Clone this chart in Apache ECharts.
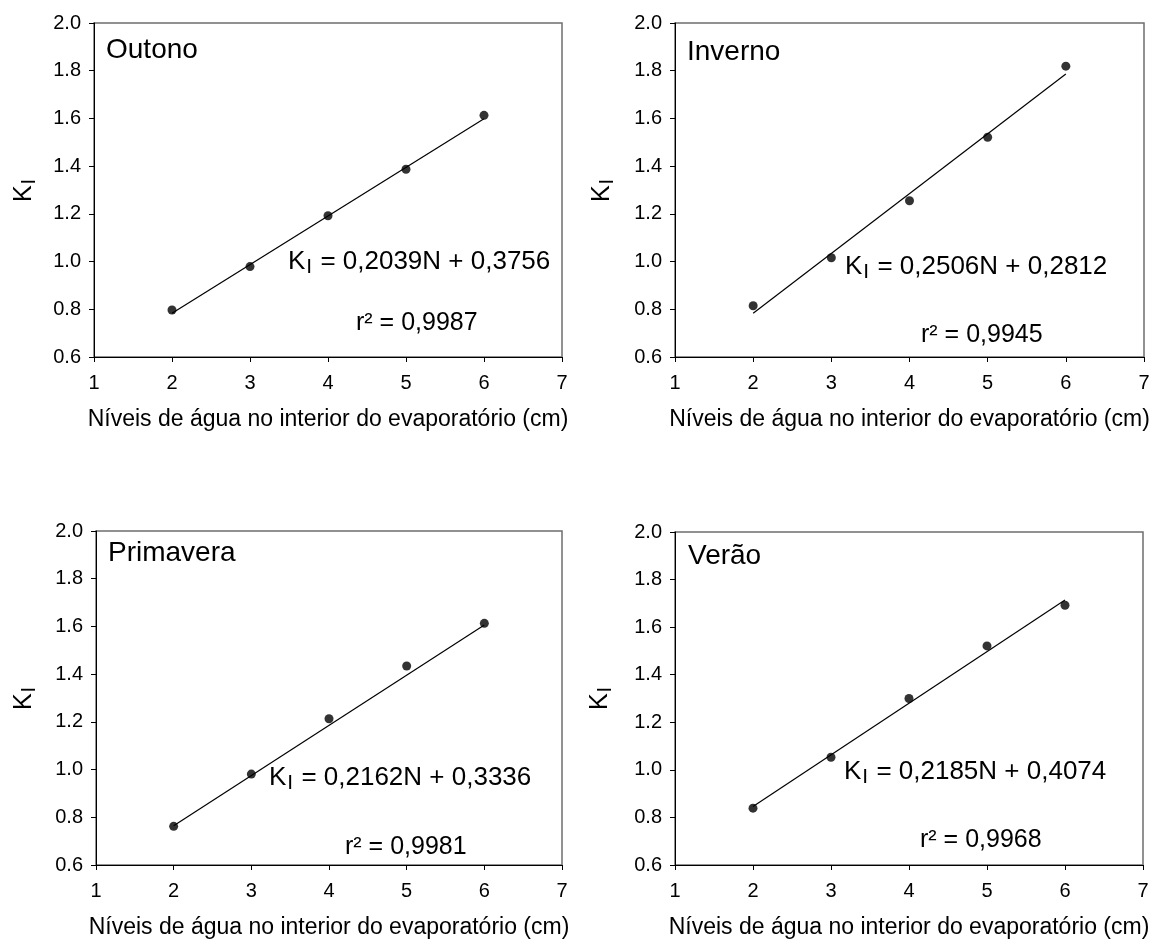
<!DOCTYPE html>
<html>
<head>
<meta charset="utf-8">
<script src="https://cdn.jsdelivr.net/npm/echarts@6/dist/echarts.min.js"></script>
<style>
html,body{margin:0;padding:0;background:#fff;}
#chart{width:1155px;height:940px;}
</style>
</head>
<body>
<div id="chart"></div>
<script>
// ---- data ----
const levels = [2, 3, 4, 5, 6];
const fitX = [2, 6];
const outono = [0.797, 0.979, 1.192, 1.387, 1.613];
const inverno = [0.815, 1.016, 1.255, 1.521, 1.819];
const primavera = [0.762, 0.981, 1.213, 1.434, 1.613];
const verao = [0.839, 1.053, 1.300, 1.521, 1.692];
const outonoFit = [0.783, 1.599];
const invernoFit = [0.783, 1.786];
const primaveraFit = [0.765, 1.606];
const veraoFit = [0.846, 1.714];
const seasons = ['Outono', 'Inverno', 'Primavera', 'Verão'];
const equations = ['0,2039N + 0,3756', '0,2506N + 0,2812', '0,2162N + 0,3336', '0,2185N + 0,4074'];
const r2 = ['0,9987', '0,9945', '0,9981', '0,9968'];
const yTicks = ['0.6', '0.8', '1.0', '1.2', '1.4', '1.6', '1.8', '2.0'];
const xTicks = ['1', '2', '3', '4', '5', '6', '7'];
const xName = 'Níveis de água no interior do evaporatório (cm)';

const FONT = '"Liberation Sans", Arial, sans-serif';
const points = [outono, inverno, primavera, verao];
const fits = [outonoFit, invernoFit, primaveraFit, veraoFit];

// layout
const grids = [
  {left: 94, top: 23, width: 468, height: 334},
  {left: 675, top: 23, width: 469, height: 334},
  {left: 96, top: 531, width: 466, height: 334},
  {left: 675, top: 532, width: 468, height: 333}
];
const titlePos = [[106, 50], [687, 52], [108, 553], [688, 556]];
const eqPos = [[288, 262], [845, 267], [269, 778], [844, 772]];
const r2Pos = [[356, 323], [921, 335], [345, 847], [920, 840]];
const yNamePos = [[24, 190], [602, 190], [24, 698], [600, 698]];

const richK = {
  k: {fontSize: 26, fontFamily: FONT, color: '#000'},
  s: {fontSize: 21, fontFamily: FONT, color: '#000', padding: [10, 1, 0, 1]}
};
const richY = {
  k: {fontSize: 25, fontFamily: FONT, color: '#000'},
  s: {fontSize: 20, fontFamily: FONT, color: '#000', padding: [10, 1, 0, 1]}
};

const option = {
  backgroundColor: '#fff',
  animation: false,
  grid: grids.map(g => Object.assign({show: true, borderColor: '#6e6e6e', borderWidth: 1.5, backgroundColor: 'transparent'}, g)),
  xAxis: grids.map((g, i) => ({
    gridIndex: i, type: 'value', min: 1, max: 7, interval: 1,
    name: xName, nameLocation: 'middle', nameGap: 51,
    nameTextStyle: {fontSize: 23, fontFamily: FONT, color: '#000'},
    axisLine: {show: true, lineStyle: {color: '#000', width: 1}},
    axisTick: {show: true, inside: false, length: 5, lineStyle: {color: '#000'}},
    axisLabel: {fontSize: 20, fontFamily: FONT, color: '#000', margin: 16,
      formatter: v => xTicks[Math.round(v) - 1]},
    splitLine: {show: false}
  })),
  yAxis: grids.map((g, i) => ({
    gridIndex: i, type: 'value', min: 0.6, max: 2.0, interval: 0.2,
    axisLine: {show: true, lineStyle: {color: '#000', width: 1}},
    axisTick: {show: true, inside: false, length: 5, lineStyle: {color: '#000'}},
    axisLabel: {fontSize: 20, fontFamily: FONT, color: '#000', margin: 13,
      formatter: v => yTicks[Math.round((v - 0.6) / 0.2)]},
    splitLine: {show: false}
  })),
  series: [],
  graphic: []
};

for (let i = 0; i < 4; i++) {
  option.series.push({
    type: 'line', xAxisIndex: i, yAxisIndex: i,
    data: fitX.map((x, j) => [x, fits[i][j]]),
    symbol: 'none', lineStyle: {color: '#000', width: 1.2}, z: 2
  });
  option.series.push({
    type: 'scatter', xAxisIndex: i, yAxisIndex: i,
    data: levels.map((x, j) => [x, points[i][j]]),
    symbol: 'circle', symbolSize: 9, itemStyle: {color: '#000'}, z: 3
  });
  option.graphic.push({
    type: 'text', x: titlePos[i][0], y: titlePos[i][1],
    style: {text: seasons[i], font: '28px ' + FONT, fill: '#000', textAlign: 'left', textVerticalAlign: 'middle'}
  });
  option.graphic.push({
    type: 'text', x: eqPos[i][0], y: eqPos[i][1],
    style: {text: '{k|K}{s|I}{k| = ' + equations[i] + '}', rich: richK, textAlign: 'left', textVerticalAlign: 'middle'}
  });
  option.graphic.push({
    type: 'text', x: r2Pos[i][0], y: r2Pos[i][1],
    style: {text: 'r² = ' + r2[i], font: '25px ' + FONT, fill: '#000', textAlign: 'left', textVerticalAlign: 'middle'}
  });
  option.graphic.push({
    type: 'text', x: yNamePos[i][0], y: yNamePos[i][1], rotation: Math.PI / 2,
    style: {text: '{k|K}{s|I}', rich: richY, textAlign: 'center', textVerticalAlign: 'middle'}
  });
}

const chart = echarts.init(document.getElementById('chart'), null, {renderer: 'canvas'});
chart.setOption(option);
</script>
</body>
</html>
